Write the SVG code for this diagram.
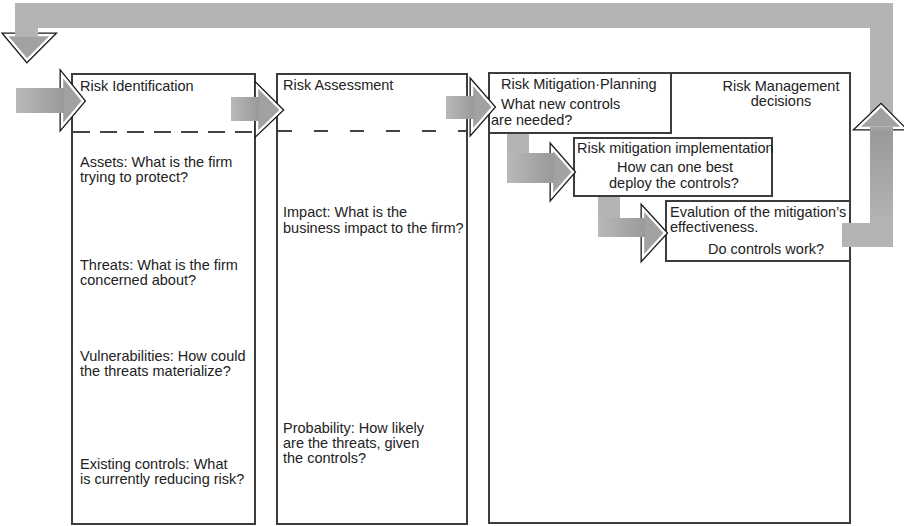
<svg xmlns="http://www.w3.org/2000/svg" width="904" height="526" viewBox="0 0 904 526">
<defs>
<linearGradient id="gh" x1="0" y1="0" x2="1" y2="0"><stop offset="0" stop-color="#b8b9bb"/><stop offset="1" stop-color="#98999b"/></linearGradient>
<linearGradient id="gv" x1="0" y1="1" x2="0" y2="0"><stop offset="0" stop-color="#b3b4b6"/><stop offset="1" stop-color="#98999b"/></linearGradient>
<linearGradient id="gd" x1="0" y1="0" x2="0" y2="1"><stop offset="0" stop-color="#b3b4b6"/><stop offset="1" stop-color="#9c9d9f"/></linearGradient>
</defs>
<style>
.box{fill:#fff;stroke:#3c3c3c;stroke-width:2}
.dash{stroke:#444;stroke-width:2;stroke-dasharray:17 10;fill:none}
.t{font-family:"Liberation Sans",Arial,sans-serif;font-size:14.5px;fill:#222}
.bar{fill:#b3b4b6}
.headO{stroke:#1a1a1a;stroke-width:5;stroke-linejoin:miter}
.headI{stroke:#fff;stroke-width:2.4;stroke-linejoin:miter;fill:#a0a1a3}
</style>

<g id="node-risk-identification">
<rect class="box" x="72" y="74" width="183" height="450"/>
<line class="dash" x1="73" y1="132" x2="254" y2="132"/>
<text class="t" x="80" y="91">Risk Identification</text>
<text class="t" x="80" y="167">Assets: What is the firm</text>
<text class="t" x="80" y="182">trying to protect?</text>
<text class="t" x="80" y="270">Threats: What is the firm</text>
<text class="t" x="80" y="285">concerned about?</text>
<text class="t" x="80" y="361">Vulnerabilities: How could</text>
<text class="t" x="80" y="376">the threats materialize?</text>
<text class="t" x="80" y="469">Existing controls: What</text>
<text class="t" x="80" y="484">is currently reducing risk?</text>
</g>

<g id="node-risk-assessment">
<rect class="box" x="277" y="74" width="190" height="450"/>
<line class="dash" x1="278" y1="131" x2="466" y2="131" style="stroke-dasharray:14 22"/>
<text class="t" x="283" y="90">Risk Assessment</text>
<text class="t" x="283" y="217">Impact: What is the</text>
<text class="t" x="283" y="233">business impact to the firm?</text>
<text class="t" x="283" y="433">Probability: How likely</text>
<text class="t" x="283" y="448">are the threats, given</text>
<text class="t" x="283" y="463">the controls?</text>
</g>

<g id="node-risk-management">
<rect class="box" x="489" y="73" width="361" height="450"/>
<text class="t" x="781" y="91" text-anchor="middle">Risk Management</text>
<text class="t" x="781" y="106" text-anchor="middle">decisions</text>
</g>

<g id="node-mitigation-planning">
<rect class="box" x="489" y="73" width="182" height="60"/>
<text class="t" x="501" y="89">Risk Mitigation·Planning</text>
<text class="t" x="501" y="109">What new controls</text>
<text class="t" x="491" y="125">are needed?</text>
</g>

<g id="node-mitigation-implementation">
<rect class="box" x="574" y="138" width="198" height="58"/>
<text class="t" x="577" y="153">Risk mitigation implementation</text>
<text class="t" x="617" y="172">How can one best</text>
<text class="t" x="609" y="188">deploy the controls?</text>
</g>

<g id="node-evaluation">
<rect class="box" x="666" y="201" width="184" height="60"/>
<text class="t" x="670" y="217">Evalution of the mitigation’s</text>
<text class="t" x="670" y="232">effectiveness.</text>
<text class="t" x="708" y="254">Do controls work?</text>
</g>

<g id="connectors">
<!-- feedback loop -->
<polygon class="bar" points="842,223 870,223 870,28 38,28 38,37 15,37 15,3 893,3 893,247 842,247"/>
<rect x="870" y="128" width="23" height="95" fill="url(#gv)"/>
<polygon class="headO" points="6,35 52,35 27,60"/>
<polygon class="headI" points="6,35 52,35 27,60"/>
<rect x="15" y="30" width="23" height="7" fill="#b3b4b6"/>
<polygon class="headO" points="858,128 903,128 881,106"/>
<polygon class="headI" points="858,128 903,128 881,106"/>
<rect x="870" y="127" width="23" height="4" fill="#a0a1a3"/>

<!-- input arrow -->
<polygon class="headO" points="62,75 83,101 62,126"/>
<polygon class="headI" points="62,75 83,101 62,126"/>
<rect x="16" y="88" width="48" height="25" fill="url(#gh)"/>

<!-- identification -> assessment -->
<polygon class="headO" points="257,86 281,110 257,133"/>
<polygon class="headI" points="257,86 281,110 257,133"/>
<rect x="231" y="97" width="28" height="24" fill="url(#gh)"/>

<!-- assessment -> planning -->
<polygon class="headO" points="472,83 493,107 472,131"/>
<polygon class="headI" points="472,83 493,107 472,131"/>
<rect x="446" y="96" width="28" height="23" fill="url(#gh)"/>

<!-- planning -> implementation -->
<polygon class="headO" points="552,148 573,172 552,196"/>
<polygon class="headI" points="552,148 573,172 552,196"/>
<rect x="507" y="134" width="22" height="49" fill="#b3b4b6"/>
<rect x="507" y="153" width="47" height="30" fill="url(#gh)"/>

<!-- implementation -> evaluation -->
<polygon class="headO" points="643,209 665,233 643,257"/>
<polygon class="headI" points="643,209 665,233 643,257"/>
<rect x="598" y="197" width="22" height="40" fill="#b3b4b6"/>
<rect x="598" y="218" width="47" height="19" fill="url(#gh)"/>
</g>
</svg>
